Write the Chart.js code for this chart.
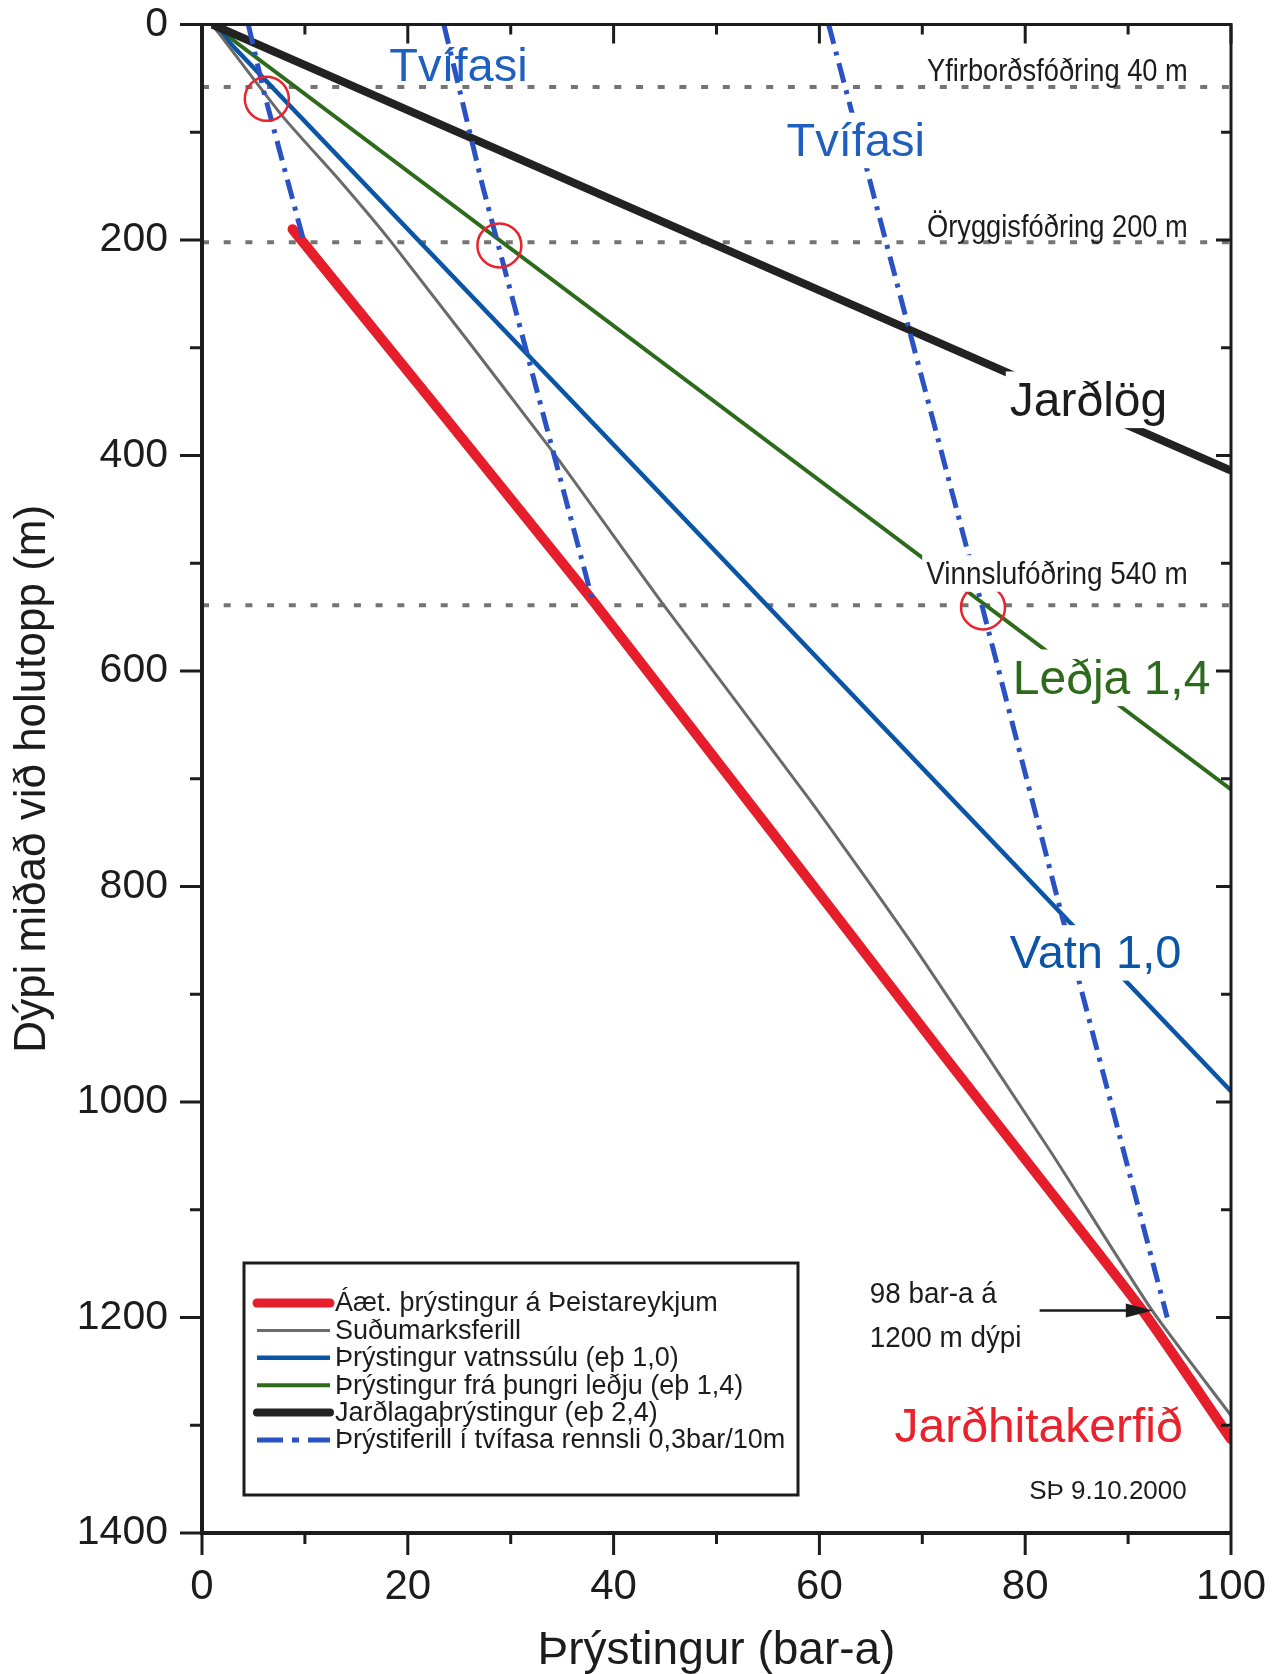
<!DOCTYPE html>
<html>
<head>
<meta charset="utf-8">
<script src="https://cdn.jsdelivr.net/npm/chart.js@4.4.1/dist/chart.umd.min.js"></script>
<style>
  html, body { margin: 0; padding: 0; background: #fff; }
</style>
</head>
<body>
<canvas id="depth-chart" width="1273" height="1674"></canvas>
<script>
// tick labels
const xTicks = [0, 20, 40, 60, 80, 100];
const yTicks = [0, 200, 400, 600, 800, 1000, 1200, 1400];

// pressure (bar-a) / depth (m) pairs
const jardlogP = [1, 100];
const jardlogD = [0, 414];
const ledjaP = [1, 100];
const ledjaD = [0, 710];
const vatnP = [1, 100];
const vatnD = [0, 990];
const sudumarkP = [1, 7.9, 13.4, 18.4, 33.8, 44.8, 59.1, 69.5, 82.4, 92.3, 100];
const sudumarkD = [0, 86, 145, 202, 393, 538, 720, 860, 1045, 1193, 1291];
const aaetlunP = [8.8, 38, 71.7, 91.2, 100];
const aaetlunD = [190, 535, 952, 1191, 1313];
const tvifasi1P = [4.5, 6.0, 10.0];
const tvifasi1D = [0, 62, 205];
const tvifasi2P = [23.5, 27.3, 38.0];
const tvifasi2D = [0, 151, 536];
const tvifasi3P = [60.9, 75.9, 83.7, 93.8];
const tvifasi3D = [0, 543, 832, 1200];

// casing depths (dotted lines) and marked points (red circles)
const casingD = [58, 202, 539];
const circleP = [6.3, 28.9, 75.9];
const circleD = [69, 205, 541];

const FONT = '"Liberation Sans", Arial, sans-serif';
const INK = '#1c1c1c';
const col = {
  red: '#e61e2b', gray: '#6a6a6a', blue: '#0a55a6', green: '#2e6a1c',
  black: '#222222', dash: '#2a52c2', circle: '#e8232d', dot: '#747474'
};
const dashDot = [20, 8, 4, 8];

const pts = (xs, ys) => xs.map((x, i) => ({ x: x, y: ys[i] }));

function lineSet(label, xs, ys, color, width, extra) {
  return Object.assign({
    label: label,
    data: pts(xs, ys),
    showLine: true,
    borderColor: color,
    backgroundColor: color,
    borderWidth: width,
    pointRadius: 0,
    tension: 0,
    fill: false
  }, extra || {});
}

const datasets = [
  lineSet('Áæt. þrýstingur á Þeistareykjum', aaetlunP, aaetlunD, col.red, 10, { borderCapStyle: 'round', tension: 0.2, order: 3 }),
  lineSet('Suðumarksferill', sudumarkP, sudumarkD, col.gray, 3, { tension: 0.2, order: 5 }),
  lineSet('Þrýstingur vatnssúlu (eþ 1,0)', vatnP, vatnD, col.blue, 4.5, { order: 6 }),
  lineSet('Þrýstingur frá þungri leðju (eþ 1,4)', ledjaP, ledjaD, col.green, 4, { order: 7 }),
  lineSet('Jarðlagaþrýstingur (eþ 2,4)', jardlogP, jardlogD, col.black, 8, { order: 4 }),
  lineSet('Þrýstiferill í tvífasa rennsli 0,3bar/10m', tvifasi1P, tvifasi1D, col.dash, 5, { borderDash: dashDot, order: 2 }),
  lineSet('', tvifasi2P, tvifasi2D, col.dash, 5, { borderDash: dashDot, order: 2 }),
  lineSet('', tvifasi3P, tvifasi3D, col.dash, 5, { borderDash: dashDot, order: 2 })
];
casingD.forEach(d => {
  datasets.push(lineSet('', [0, 100], [d, d], col.dot, 4, { borderDash: [7, 14.7], order: 9 }));
});
datasets.push({
  label: '',
  data: pts(circleP, circleD),
  showLine: false,
  pointRadius: 22,
  pointHoverRadius: 22,
  pointBorderWidth: 2.5,
  pointBorderColor: col.circle,
  pointBackgroundColor: 'rgba(0,0,0,0)',
  order: 1
});

// text annotations, placed in data units (sx = horizontal squeeze of the glyphs)
const notes = [
  { t: 'Tvífasi', x: 18.2, y: 52, size: 47, color: '#1f5fbf', align: 'left' },
  { t: 'Tvífasi', x: 56.8, y: 122, size: 47, color: '#1f5fbf', align: 'left', box: true },
  { t: 'Yfirborðsfóðring 40 m', x: 95.8, y: 52, size: 31, sx: 0.88, color: INK, align: 'right' },
  { t: 'Öryggisfóðring 200 m', x: 95.8, y: 197, size: 31, sx: 0.88, color: INK, align: 'right' },
  { t: 'Jarðlög', x: 78.5, y: 363, size: 48, color: INK, align: 'left', box: true },
  { t: 'Vinnslufóðring 540 m', x: 95.8, y: 519, size: 31, sx: 0.9, color: INK, align: 'right', box: true },
  { t: 'Leðja 1,4', x: 78.8, y: 621, size: 48, color: col.green, align: 'left', box: true },
  { t: 'Vatn 1,0', x: 78.5, y: 876, size: 47, color: col.blue, align: 'left', box: true },
  { t: '98 bar-a á', x: 64.9, y: 1187, size: 29, sx: 0.96, color: INK, align: 'left' },
  { t: '1200 m dýpi', x: 64.9, y: 1227, size: 29, sx: 0.96, color: INK, align: 'left' },
  { t: 'Jarðhitakerfið', x: 67.3, y: 1316, size: 48, color: col.circle, align: 'left' },
  { t: 'SÞ 9.10.2000', x: 95.7, y: 1368, size: 26, color: INK, align: 'right' }
];
const arrow = { x0: 81.4, x1: 92.4, y: 1193.5 };

const decorations = {
  id: 'decorations',
  afterDatasetsDraw(chart) {
    const ctx = chart.ctx;
    const xs = chart.scales.x, ys = chart.scales.y;
    const a = chart.chartArea;
    ctx.save();

    // annotations
    notes.forEach(n => {
      const px = xs.getPixelForValue(n.x), py = ys.getPixelForValue(n.y);
      const sx = n.sx || 1;
      ctx.font = n.size + 'px ' + FONT;
      ctx.textBaseline = 'alphabetic';
      ctx.textAlign = n.align;
      if (n.box) {
        const w = ctx.measureText(n.t).width * sx;
        const left = n.align === 'right' ? px - w : px;
        ctx.fillStyle = '#fff';
        ctx.fillRect(left - 4, py - n.size * 0.92, w + 8, n.size * 1.18);
      }
      ctx.save();
      ctx.translate(px, py);
      ctx.scale(sx, 1);
      ctx.fillStyle = n.color;
      ctx.fillText(n.t, 0, 0);
      ctx.restore();
    });

    // arrow
    const ax0 = xs.getPixelForValue(arrow.x0), ax1 = xs.getPixelForValue(arrow.x1);
    const ay = ys.getPixelForValue(arrow.y);
    ctx.strokeStyle = INK;
    ctx.fillStyle = INK;
    ctx.lineWidth = 2.5;
    ctx.beginPath();
    ctx.moveTo(ax0, ay);
    ctx.lineTo(ax1 - 20, ay);
    ctx.stroke();
    ctx.beginPath();
    ctx.moveTo(ax1, ay);
    ctx.lineTo(ax1 - 27, ay - 7);
    ctx.lineTo(ax1 - 27, ay + 7);
    ctx.closePath();
    ctx.fill();

    // frame and tick marks
    ctx.strokeStyle = INK;
    ctx.lineWidth = 3;
    ctx.beginPath();
    for (let v = 0; v <= 100; v += 10) {
      const x = xs.getPixelForValue(v);
      const major = v % 20 === 0;
      ctx.moveTo(x, a.bottom); ctx.lineTo(x, a.bottom + (major ? 22 : 11));
      ctx.moveTo(x, a.top); ctx.lineTo(x, a.top + (major ? 19 : 10));
    }
    for (let d = 0; d <= 1400; d += 100) {
      const y = ys.getPixelForValue(d);
      const major = d % 200 === 0;
      ctx.moveTo(a.left, y); ctx.lineTo(a.left - (major ? 22 : 12), y);
      ctx.moveTo(a.right, y); ctx.lineTo(a.right - (major ? 15 : 10), y);
    }
    ctx.stroke();
    ctx.lineWidth = 3;
    ctx.beginPath();
    ctx.moveTo(a.left, a.top); ctx.lineTo(a.right, a.top); ctx.lineTo(a.right, a.bottom);
    ctx.stroke();
    ctx.lineWidth = 4;
    ctx.beginPath();
    ctx.moveTo(a.left, a.top); ctx.lineTo(a.left, a.bottom); ctx.lineTo(a.right, a.bottom);
    ctx.stroke();

    // legend box
    const L = { x: 244, y: 1263, w: 554, h: 232 };
    ctx.fillStyle = '#fff';
    ctx.fillRect(L.x, L.y, L.w, L.h);
    ctx.lineWidth = 3;
    ctx.strokeStyle = INK;
    ctx.strokeRect(L.x, L.y, L.w, L.h);
    ctx.font = '27px ' + FONT;
    ctx.textAlign = 'left';
    ctx.textBaseline = 'middle';
    datasets.slice(0, 6).forEach((ds, i) => {
      const y = L.y + 40 + i * 27.4;
      ctx.save();
      ctx.strokeStyle = ds.borderColor;
      ctx.lineWidth = Math.min(ds.borderWidth, 9);
      ctx.lineCap = ds.borderWidth >= 8 ? 'round' : 'butt';
      ctx.setLineDash(ds.borderDash ? [26, 9, 7, 9] : []);
      ctx.beginPath();
      ctx.moveTo(L.x + 13, y);
      ctx.lineTo(L.x + 86, y);
      ctx.stroke();
      ctx.restore();
      ctx.fillStyle = INK;
      ctx.fillText(ds.label, L.x + 91, y + 1);
    });
    ctx.restore();
  }
};

new Chart(document.getElementById('depth-chart'), {
  type: 'scatter',
  data: { datasets: datasets },
  options: {
    responsive: false,
    animation: false,
    devicePixelRatio: 1,
    layout: { padding: { top: 23, right: 42, left: 0, bottom: 0 } },
    plugins: { legend: { display: false }, tooltip: { enabled: false } },
    scales: {
      x: {
        type: 'linear', position: 'bottom', min: 0, max: 100,
        afterBuildTicks: s => { s.ticks = xTicks.map(v => ({ value: v })); },
        afterFit: s => { s.height = 141; s.paddingLeft = 0; s.paddingRight = 0; },
        grid: { display: false },
        border: { display: false },
        ticks: { font: { family: FONT, size: 42 }, color: INK, padding: 21, maxRotation: 0, callback: v => String(v) },
        title: { display: true, text: 'Þrýstingur (bar-a)', color: INK, font: { family: FONT, size: 46, lineHeight: 1 }, padding: { top: 0, bottom: 0 } }
      },
      y: {
        type: 'linear', position: 'left', reverse: true, min: 0, max: 1400,
        afterBuildTicks: s => { s.ticks = yTicks.map(v => ({ value: v })); },
        afterFit: s => { s.width = 202; s.paddingTop = 0; s.paddingBottom = 0; },
        grid: { display: false },
        border: { display: false },
        ticks: { font: { family: FONT, size: 41 }, color: INK, padding: 26, callback: v => String(v) },
        title: { display: true, text: 'Dýpi miðað við holutopp (m)', color: INK, font: { family: FONT, size: 44 }, padding: { top: 6, bottom: 0 } }
      }
    }
  },
  plugins: [decorations]
});
</script>
</body>
</html>
